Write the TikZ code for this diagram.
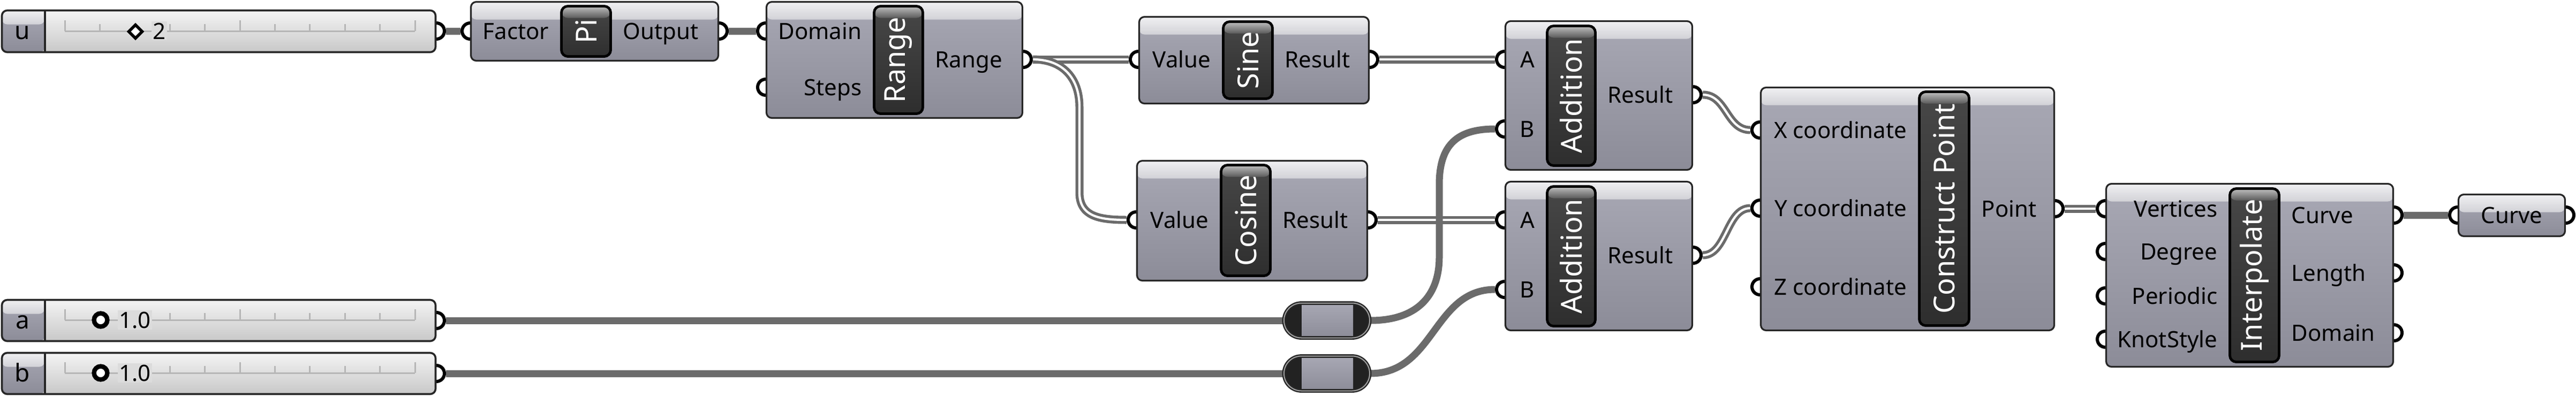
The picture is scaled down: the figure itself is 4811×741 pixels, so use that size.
\documentclass[tikz,border=0pt]{standalone}
\usepackage{fontspec}
\setmainfont{Noto Sans}[BoldFeatures={FakeBold=0.6}]
\usetikzlibrary{shapes.misc}
\pgfdeclarelayer{wires}
\pgfdeclarelayer{ports}
\pgfsetlayers{wires,ports,main}

\definecolor{bodyT}{HTML}{A8A8B4}
\definecolor{bodyB}{HTML}{8C8C98}
\definecolor{bandT}{HTML}{F0F0F2}
\definecolor{bandB}{HTML}{B4B4BC}
\definecolor{edge}{HTML}{262626}
\definecolor{darkT}{HTML}{474747}
\definecolor{darkB}{HTML}{2E2E2E}
\definecolor{hiT}{HTML}{C0C0C0}
\definecolor{hiB}{HTML}{404040}
\definecolor{sldT}{HTML}{F4F4F4}
\definecolor{sldB}{HTML}{C8C8C8}
\definecolor{sldM}{HTML}{DCDCDC}
\definecolor{wire}{HTML}{6B6B6B}
\definecolor{trk}{HTML}{B6B6B6}
\definecolor{ring}{HTML}{A0A0A0}
\definecolor{cap}{HTML}{222222}

\tikzset{
  sz/.style 2 args={minimum width=#1*0.25pt, minimum height=#2*0.25pt},
  comp/.style={draw=edge, line width=0.8pt, rounded corners=2.5pt,
    top color=bodyT, bottom color=bodyB, inner sep=0pt,
    path picture={\begin{scope}
      \clip (path picture bounding box.north west) rectangle ([yshift=-8.25pt]path picture bounding box.north east);
      \shade[top color=bandT, bottom color=bandB] (path picture bounding box.north west) rectangle ([yshift=-16.5pt]path picture bounding box.north east);
      \end{scope}}},
  sld/.style={draw=edge, line width=0.9pt, rounded corners=2.5pt,
    top color=sldT, bottom color=sldB, inner sep=0pt,
    path picture={
      \shade[top color=bodyT, bottom color=bodyB] (path picture bounding box.south west) rectangle ([xshift=20pt]path picture bounding box.north west);
      \begin{scope}
      \clip (path picture bounding box.north west) rectangle ([xshift=20pt,yshift=-6.5pt]path picture bounding box.north west);
      \shade[top color=bandT, bottom color=bandB] (path picture bounding box.north west) rectangle ([xshift=20pt,yshift=-13pt]path picture bounding box.north west);
      \end{scope}
      \draw[edge, line width=1pt] ([xshift=20pt]path picture bounding box.south west) -- ([xshift=20pt]path picture bounding box.north west);}},
  nbox/.style={draw=black, line width=1.2pt, rounded corners=3pt,
    top color=darkT, bottom color=darkB, inner sep=0pt,
    path picture={\begin{scope}
      \clip (path picture bounding box.north west) rectangle ([yshift=-5.5pt]path picture bounding box.north east);
      \shade[top color=hiT, bottom color=hiB] (path picture bounding box.north west) rectangle ([yshift=-7pt]path picture bounding box.north east);
      \end{scope}}},
  ntxt/.style={text=white, rotate=90, inner sep=0pt, font=\fontsize{13.5}{15}\selectfont\bfseries},
  relay/.style={rounded rectangle, draw=edge, double=ring, double distance=0.5pt, line width=0.6pt,
    fill=cap, minimum width=40pt, minimum height=16.25pt, inner sep=0pt,
    path picture={\shade[top color=bodyT, bottom color=bodyB] ([xshift=8.25pt]path picture bounding box.south west) rectangle ([xshift=-7.75pt]path picture bounding box.north east);}},
  port/.style={circle, draw=black, fill=white, line width=1.5pt, minimum size=7.5pt, inner sep=0pt},
  lbl/.style={inner sep=0pt, font=\fontsize{10.5}{12}\selectfont},
  ilbl/.style={lbl, anchor=base east},
  olbl/.style={lbl, anchor=base west},
  sname/.style={inner sep=0pt, anchor=base, font=\fontsize{11.5}{13}\selectfont},
  vtxt/.style={inner sep=0.6pt, anchor=base west, fill=sldM, font=\fontsize{10.5}{12}\selectfont},
  trk/.style={draw=trk, line width=0.75pt},
  w1/.style={draw=wire, line width=3.25pt},
  w2/.style={draw=wire, line width=1.35pt, double=white, double distance=1.05pt},
}

\begin{document}
\begin{tikzpicture}[x=0.25pt, y=-0.25pt]
\useasboundingbox (0,0) rectangle (4811,741);

% ---------- components ----------
\node[sld, sz={810}{78}] (u) at (408.5,58.5) {};
\node[sld, sz={810}{77}] (a) at (408.5,599) {};
\node[sld, sz={810}{77}] (b) at (408.5,698) {};
\node[comp, sz={462}{110}] (pi) at (1110.5,58.5) {};
\node[comp, sz={478}{217}] (rg) at (1670.5,112) {};
\node[comp, sz={429}{162}] (sin) at (2342,112.5) {};
\node[comp, sz={430}{224}] (cos) at (2338.5,412.5) {};
\node[comp, sz={349}{278}] (add1) at (2986,178.5) {};
\node[comp, sz={349}{278}] (add2) at (2986,478.5) {};
\node[comp, sz={548}{454}] (cp) at (3562.5,390.5) {};
\node[comp, sz={536}{342}] (ip) at (4201.5,514.5) {};
\node[comp, sz={199}{78}] (crv) at (4691,402.5) {};
\node[relay] (ra) at (2478,599) {};
\node[relay] (rb) at (2478,698) {};

% ---------- name boxes ----------
\node[nbox, sz={92}{94}] (pi-n) at (1094.5,58.5) {};
\node[ntxt] at (pi-n) {Pi};
\node[nbox, sz={91}{201}] (rg-n) at (1678,112) {};
\node[ntxt] at (rg-n) {Range};
\node[nbox, sz={92}{144}] (sin-n) at (2330.5,112.5) {};
\node[ntxt] at (sin-n) {Sine};
\node[nbox, sz={92}{207}] (cos-n) at (2326.5,412) {};
\node[ntxt] at (cos-n) {Cosine};
\node[nbox, sz={90}{261}] (add1-n) at (2934.5,179) {};
\node[ntxt] at (add1-n) {Addition};
\node[nbox, sz={90}{261}] (add2-n) at (2934.5,479) {};
\node[ntxt] at (add2-n) {Addition};
\node[nbox, sz={93}{437}] (cp-n) at (3631,390) {};
\node[ntxt] at (cp-n) {Construct Point};
\node[nbox, sz={92}{324}] (ip-n) at (4210.5,514.5) {};
\node[ntxt] at (ip-n) {Interpolate};

% ---------- sliders: track, ticks, markers, texts ----------
\foreach \yy in {58,598,697} {
  \draw[trk] (121,\yy) -- (775,\yy);
  \foreach \tx in {121,448,775} \draw[trk] (\tx,\yy) -- (\tx,\yy-20);
  \foreach \tx in {186.4,251.8,317.2,382.6,513.4,578.8,644.2,709.6} \draw[trk] (\tx,\yy) -- (\tx,\yy-13);
}
\node[sname] (u-name) at (42,73) {u};
\node[sname] (a-name) at (42,614) {a};
\node[sname] (b-name) at (42,713) {b};
\draw[black, line width=1.4pt, fill=white] (253,46.5) -- (265.5,59) -- (253,71.5) -- (240.5,59) -- cycle;
\draw[black, line width=2.1pt, fill=white] (188,598) circle[radius=3.1pt];
\draw[black, line width=2.1pt, fill=white] (188,697) circle[radius=3.1pt];
\node[vtxt] (u-val) at (282,73) {2};
\node[vtxt] (a-val) at (219,613) {1.0};
\node[vtxt] (b-val) at (219,712) {1.0};

% ---------- port labels ----------
\node[ilbl] at (1026,73) {Factor};
\node[olbl] at (1163,73) {Output};
\node[ilbl] at (1610,73) {Domain};
\node[ilbl] at (1610,178) {Steps};
\node[olbl] at (1746,126) {Range};
\node[ilbl] at (2262,126) {Value};
\node[olbl] at (2399,126) {Result};
\node[ilbl] at (2258,426) {Value};
\node[olbl] at (2395,426) {Result};
\node[ilbl] at (2867,126) {A};
\node[ilbl] at (2867,256) {B};
\node[olbl] at (3002,192) {Result};
\node[ilbl] at (2867,426) {A};
\node[ilbl] at (2867,556) {B};
\node[olbl] at (3002,492) {Result};
\node[ilbl] at (3562,258) {X coordinate};
\node[ilbl] at (3562,404) {Y coordinate};
\node[ilbl] at (3562,551) {Z coordinate};
\node[olbl] at (3700,405) {Point};
\node[ilbl] at (4142,405) {Vertices};
\node[ilbl] at (4142,485) {Degree};
\node[ilbl] at (4142,568) {Periodic};
\node[ilbl] at (4142,649) {KnotStyle};
\node[olbl] at (4279,417) {Curve};
\node[olbl] at (4279,525) {Length};
\node[olbl] at (4279,637) {Domain};
\node[lbl, anchor=base] at (4691,417) {Curve};

% ---------- ports ----------
\begin{pgfonlayer}{ports}
\node[port] (u-out) at (815,58) {};
\node[port] (a-out) at (815,599) {};
\node[port] (b-out) at (815,698) {};
\node[port] (pi-in) at (878,58) {};
\node[port] (pi-out) at (1343,58) {};
\node[port] (rg-dom) at (1430,58) {};
\node[port] (rg-st) at (1430,163) {};
\node[port] (rg-out) at (1911,111) {};
\node[port] (sin-in) at (2126,111) {};
\node[port] (sin-out) at (2558,111) {};
\node[port] (cos-in) at (2122,411) {};
\node[port] (cos-out) at (2555,411) {};
\node[port] (add1-a) at (2810,111) {};
\node[port] (add1-b) at (2810,241) {};
\node[port] (add1-out) at (3162,177) {};
\node[port] (add2-a) at (2810,411) {};
\node[port] (add2-b) at (2810,541) {};
\node[port] (add2-out) at (3162,477) {};
\node[port] (cp-x) at (3287,243) {};
\node[port] (cp-y) at (3287,389) {};
\node[port] (cp-z) at (3287,536) {};
\node[port] (cp-out) at (3838,390) {};
\node[port] (ip-v) at (3932,390) {};
\node[port] (ip-d) at (3932,470) {};
\node[port] (ip-p) at (3932,553) {};
\node[port] (ip-k) at (3932,634) {};
\node[port] (ip-c) at (4471,402) {};
\node[port] (ip-l) at (4471,510) {};
\node[port] (ip-dm) at (4471,622) {};
\node[port] (crv-in) at (4590,402) {};
\node[port] (crv-out) at (4792,402) {};
\end{pgfonlayer}

% ---------- wires ----------
\begin{pgfonlayer}{wires}
\fill[white] (0,0) rectangle (4811,741);
\coordinate (rc1) at (2016,200);
\coordinate (rc2) at (2016,360);
\coordinate (ac1) at (2688,480);
\coordinate (ac2) at (2688,345);
\draw[w2] (rg-out.east) -- (sin-in.west);
\draw[w2] (rg-out.east) .. controls +(55,0) and +(0,-55) .. (rc1) -- (rc2) .. controls +(0,45) and +(-50,0) .. (cos-in.west);
\draw[w2] (sin-out.east) -- (add1-a.west);
\draw[w2] (cos-out.east) -- (add2-a.west);
\draw[w2] (add1-out.east) .. controls +(45,0) and +(-45,0) .. (cp-x.west);
\draw[w2] (add2-out.east) .. controls +(45,0) and +(-45,0) .. (cp-y.west);
\draw[w2] (cp-out.east) -- (ip-v.west);
\draw[w1] (u-out.east) -- (pi-in.west);
\draw[w1] (pi-out.east) -- (rg-dom.west);
\draw[w1] (a-out.east) -- (ra.west);
\draw[w1] (b-out.east) -- (rb.west);
\draw[w1] (ra.east) .. controls +(85,0) and +(0,75) .. (ac1) -- (ac2) .. controls +(0,-75) and +(-70,0) .. (add1-b.west);
\draw[w1] (rb.east) .. controls +(120,0) and +(-115,0) .. (add2-b.west);
\draw[w1] (ip-c.east) -- (crv-in.west);
\end{pgfonlayer}
\end{tikzpicture}
\end{document}
